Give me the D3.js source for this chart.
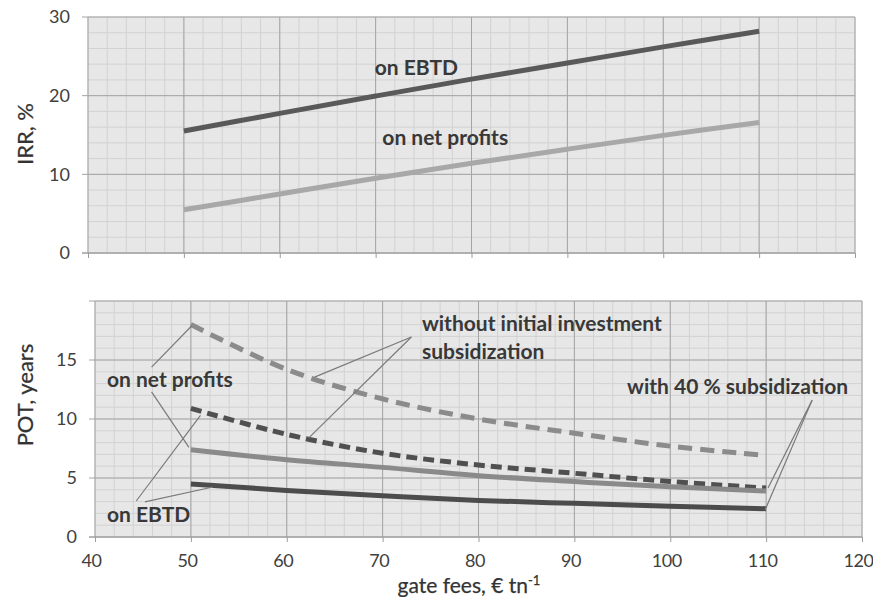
<!DOCTYPE html>
<html>
<head>
<meta charset="utf-8">
<script src="https://cdn.jsdelivr.net/npm/d3@7"></script>
<style>
  body { margin: 0; background: #ffffff; }
  text { font-family: Lato, "Open Sans", "DejaVu Sans", sans-serif; }
</style>
</head>
<body>
<svg id="chart" width="873" height="597"></svg>
<script>
// Gate fee levels (€ per tonne)
const gateFees = [50, 60, 70, 80, 90, 100, 110];

// Internal rate of return, %
const irrEbtd = [15.5, 17.75, 19.95, 22.1, 24.15, 26.2, 28.2];
const irrNetProfits = [5.5, 7.5, 9.5, 11.4, 13.2, 14.95, 16.6];

// Pay-out time, years
const potNetNoSubsidy = [18.0, 14.2, 11.7, 10.0, 8.8, 7.7, 6.9];
const potEbtdNoSubsidy = [10.9, 8.7, 7.1, 6.1, 5.4, 4.7, 4.15];
const potNetSubsidy40 = [7.4, 6.55, 5.9, 5.2, 4.7, 4.25, 3.9];
const potEbtdSubsidy40 = [4.5, 3.95, 3.5, 3.1, 2.85, 2.6, 2.4];

// Axis ticks
const feeTicks = [40, 50, 60, 70, 80, 90, 100, 110, 120];
const irrTicks = [0, 10, 20, 30];
const potTicks = [0, 5, 10, 15];

const svg = d3.select("#chart");

const C = {
  bg: "#e7e7e7",
  minor: "#d2d2d2",
  major: "#a4a4a4",
  axis: "#9c9c9c",
  text: "#404040",
  label: "#383838",
  leader: "#7a7a7a"
};

function panel(cfg) {
  const g = svg.append("g");
  const x = d3.scaleLinear().domain([40, 120]).range([cfg.left, cfg.right]);
  const y = d3.scaleLinear().domain(cfg.yDomain).range([cfg.bottom, cfg.top]);

  g.append("rect")
    .attr("x", cfg.left).attr("y", cfg.top)
    .attr("width", cfg.right - cfg.left).attr("height", cfg.bottom - cfg.top)
    .attr("fill", C.bg);

  // minor grid
  const xMinor = d3.range(40, 120.001, 2);
  const yMinor = d3.range(cfg.yDomain[0], cfg.yDomain[1] + 0.001, cfg.yMinor);
  g.append("g").selectAll("line").data(xMinor).join("line")
    .attr("x1", d => x(d)).attr("x2", d => x(d))
    .attr("y1", cfg.top).attr("y2", cfg.bottom)
    .attr("stroke", C.minor).attr("stroke-width", 1);
  g.append("g").selectAll("line").data(yMinor).join("line")
    .attr("y1", d => y(d)).attr("y2", d => y(d))
    .attr("x1", cfg.left).attr("x2", cfg.right)
    .attr("stroke", C.minor).attr("stroke-width", 1);

  // major grid
  const yMajor = d3.range(cfg.yDomain[0], cfg.yDomain[1] + 0.001, cfg.yMajor);
  g.append("g").selectAll("line").data(feeTicks).join("line")
    .attr("x1", d => x(d)).attr("x2", d => x(d))
    .attr("y1", cfg.top).attr("y2", cfg.bottom)
    .attr("stroke", C.major).attr("stroke-width", 1);
  g.append("g").selectAll("line").data(yMajor).join("line")
    .attr("y1", d => y(d)).attr("y2", d => y(d))
    .attr("x1", cfg.left - 6).attr("x2", cfg.right)
    .attr("stroke", C.major).attr("stroke-width", 1);

  // x axis
  const xAxis = d3.axisBottom(x).tickValues(feeTicks).tickSizeInner(5).tickSizeOuter(0)
    .tickPadding(cfg.showXLabels ? 12 : 0)
    .tickFormat(cfg.showXLabels ? d3.format("d") : () => "");
  const xa = g.append("g").attr("transform", `translate(0,${cfg.bottom})`).call(xAxis);
  xa.select(".domain").attr("stroke", C.axis).attr("d", `M${cfg.left - 6},0H${cfg.right}`);
  xa.selectAll(".tick line").attr("stroke", C.axis);
  xa.selectAll(".tick text").attr("fill", C.text).attr("font-size", 18)
    .attr("letter-spacing", "-0.5px").attr("dx", -4);

  // y axis labels
  const yAxis = d3.axisLeft(y).tickValues(cfg.yTicks).tickSize(0).tickPadding(18)
    .tickFormat(d3.format("d"));
  const ya = g.append("g").attr("transform", `translate(${cfg.left},0)`).call(yAxis);
  ya.select(".domain").remove();
  ya.selectAll(".tick text").attr("fill", C.text).attr("font-size", 18);

  return { g, x, y };
}

const irrPanel = panel({
  left: 88, right: 855, top: 17, bottom: 253,
  yDomain: [0, 30], yMinor: 2, yMajor: 10, yTicks: irrTicks, showXLabels: false
});

const potPanel = panel({
  left: 95, right: 862, top: 301, bottom: 537,
  yDomain: [0, 20], yMinor: 1, yMajor: 5, yTicks: potTicks, showXLabels: true
});

function series(p, values, color, width, dash) {
  const line = d3.line()
    .x((d, i) => p.x(gateFees[i]))
    .y(d => p.y(d))
    .curve(d3.curveCatmullRom.alpha(0.5));
  p.g.append("path")
    .datum(values)
    .attr("d", line)
    .attr("fill", "none")
    .attr("stroke", color)
    .attr("stroke-width", width)
    .attr("stroke-dasharray", dash || null)
    .attr("stroke-linecap", "butt");
}

// IRR curves
series(irrPanel, irrEbtd, "#595959", 5);
series(irrPanel, irrNetProfits, "#a8a8a8", 5);

// POT curves
series(potPanel, potNetNoSubsidy, "#8b8b8b", 5, "14,8");
series(potPanel, potEbtdNoSubsidy, "#505050", 5, "11,6");
series(potPanel, potNetSubsidy40, "#8a8a8a", 5);
series(potPanel, potEbtdSubsidy40, "#4c4c4c", 5);

// text labels placed in data units
function label(p, fee, val, str) {
  return p.g.append("text")
    .attr("x", p.x(fee)).attr("y", p.y(val))
    .attr("dy", "0.35em")
    .attr("fill", C.label)
    .attr("font-size", 21)
    .attr("font-weight", "bold")
    .text(str);
}
function leader(p, from, to) {
  p.g.append("line")
    .attr("x1", p.x(from[0])).attr("y1", p.y(from[1]))
    .attr("x2", p.x(to[0])).attr("y2", p.y(to[1]))
    .attr("stroke", C.leader).attr("stroke-width", 1.2);
}

label(irrPanel, 69.9, 23.6, "on EBTD");
label(irrPanel, 70.7, 14.7, "on net profits");

label(potPanel, 41.25, 13.3, "on net profits");
leader(potPanel, [45.9, 14.4], [50.1, 17.9]);
leader(potPanel, [45.9, 12.3], [49.8, 7.6]);

label(potPanel, 41.25, 1.86, "on EBTD");
leader(potPanel, [44.3, 3.05], [51.0, 10.3]);
leader(potPanel, [45.2, 2.97], [52.3, 4.24]);

label(potPanel, 74.1, 18.1, "without initial investment");
label(potPanel, 74.1, 15.75, "subsidization");
leader(potPanel, [73.0, 16.95], [62.9, 13.55]);
leader(potPanel, [73.0, 16.95], [62.3, 8.4]);

label(potPanel, 95.5, 12.7, "with 40 % subsidization");
leader(potPanel, [114.8, 11.6], [110.2, 4.15]);
leader(potPanel, [114.8, 11.6], [109.9, 2.3]);

// axis titles
function title(sel) {
  return sel.attr("fill", "#333").attr("stroke", "#333").attr("stroke-width", 0.25)
    .attr("font-size", 21).attr("text-anchor", "middle");
}
title(svg.append("text"))
  .attr("transform", "translate(33,134) rotate(-90)")
  .attr("font-size", 22)
  .text("IRR, %");
title(svg.append("text"))
  .attr("transform", "translate(33,395) rotate(-90)")
  .attr("font-size", 22)
  .text("POT, years");
const xt = title(svg.append("text")).attr("x", 469).attr("y", 593);
xt.append("tspan").text("gate fees, € tn");
xt.append("tspan").attr("dy", -8).attr("font-size", 13).text("-1");
</script>
</body>
</html>
